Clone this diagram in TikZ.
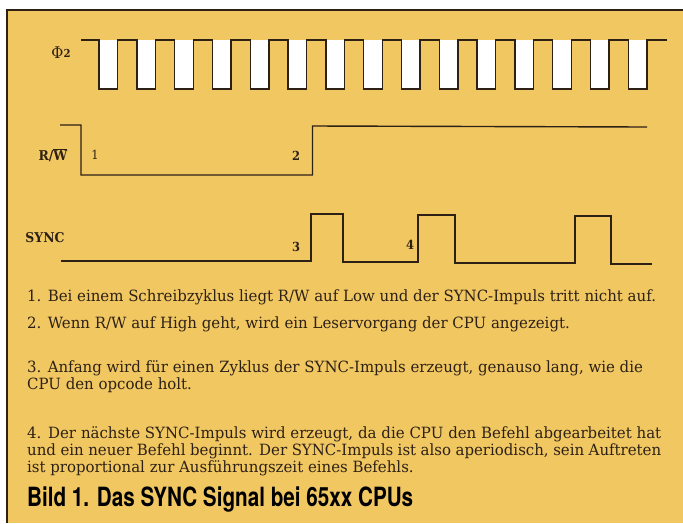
\documentclass[tikz,border=0pt]{standalone}
\usepackage{fontspec}
\newfontfamily\bodyfont{DejaVu Serif}[FakeStretch=0.965]
\newfontfamily\labelfont{DejaVu Serif}[FakeStretch=0.92]
\newfontfamily\titlefont{TeX Gyre Heros}[FakeStretch=0.78]
\usepackage{tikz}
\definecolor{paper}{RGB}{241,199,98}
\definecolor{ink}{RGB}{45,33,22}

\begin{document}
\begin{tikzpicture}[x=1pt,y=-1pt,
  wave/.style={ink,line width=1.4pt},
  sig/.style={text=ink,inner sep=0pt,font=\labelfont\bfseries\fontsize{13.5}{13.5}\selectfont},
  num/.style={text=ink,inner sep=0pt,font=\labelfont\bfseries\fontsize{12.5}{12.5}\selectfont},
  para/.style={anchor=base west,inner sep=0pt,text=ink,font=\bodyfont\fontsize{15.5}{17}\selectfont}]
  \useasboundingbox (0,0) rectangle (683,523);
  % ---------------- sheet
  \fill[white] (0,0) rectangle (683,523);
  \fill[paper] (7,10) rectangle (683,523);
  \draw[ink,line width=1.6pt] (7,523) -- (7,10) -- (683,10);
  % ---------------- clock phi2
  \foreach \k in {0,...,14}
    \fill[white] ({99+37.8*\k},40) rectangle ({117.6+37.8*\k},89);
  \draw[wave] (81,40)
    \foreach \k in {0,...,14} { -- ({99+37.8*\k},40) -- ({99+37.8*\k},89)
      -- ({117.6+37.8*\k},89) -- ({117.6+37.8*\k},40) } -- (667,40);
  \node[text=ink,inner sep=0pt,font=\labelfont\fontsize{16}{16}\selectfont] (phi) at (61,53)
    {Φ\raisebox{1.5pt}{\fontsize{11}{11}\selectfont\bfseries 2}};
  % ---------------- R/W
  \draw[wave] (60,125) -- (81,125) -- (81,175) -- (312.5,175) -- (312.5,126) -- (647,127);
  \node[sig] (rw) at (53,155) {R/$\overline{\hbox{W}}$};
  \node[num,font=\labelfont\fontsize{12.5}{12.5}\selectfont] (n1) at (95,155) {1};
  \node[num] (n2) at (296,156) {2};
  % ---------------- SYNC
  \draw[wave] (61,261) -- (311,261) -- (311,214) -- (343,214) -- (343,262)
    -- (418,262) -- (418,215) -- (455,215) -- (455,263) -- (575,263)
    -- (575,216) -- (611,216) -- (611,264) -- (652,264);
  \node[sig] (sync) at (45,238) {SYNC};
  \node[num] (n3) at (296,247) {3};
  \node[num] (n4) at (410,245) {4};
  % ---------------- notes
  \node[para] (p1) at (27,301)
    {1. Bei einem Schreibzyklus liegt R/W auf Low und der SYNC-Impuls tritt nicht auf.};
  \node[para] (p2) at (27,328)
    {2. Wenn R/W auf High geht, wird ein Leservorgang der CPU angezeigt.};
  \node[para] (p3a) at (27,372)
    {3. Anfang wird für einen Zyklus der SYNC-Impuls erzeugt, genauso lang, wie die};
  \node[para] (p3b) at (27,389) {CPU den opcode holt.};
  \node[para] (p4a) at (27,438)
    {\makebox[634pt][s]{4. Der nächste SYNC-Impuls wird erzeugt, da die CPU den Befehl abgearbeitet hat}};
  \node[para] (p4b) at (27,455)
    {\makebox[634pt][s]{und ein neuer Befehl beginnt. Der SYNC-Impuls ist also aperiodisch, sein Auftreten}};
  \node[para] (p4c) at (27,472) {ist proportional zur Ausführungszeit eines Befehls.};
  \node[anchor=base west,inner sep=0pt,text=black,font=\titlefont\bfseries\fontsize{26.5}{26.5}\selectfont]
    (title) at (27,506) {Bild 1. Das SYNC Signal bei 65xx CPUs};
\end{tikzpicture}
\end{document}
